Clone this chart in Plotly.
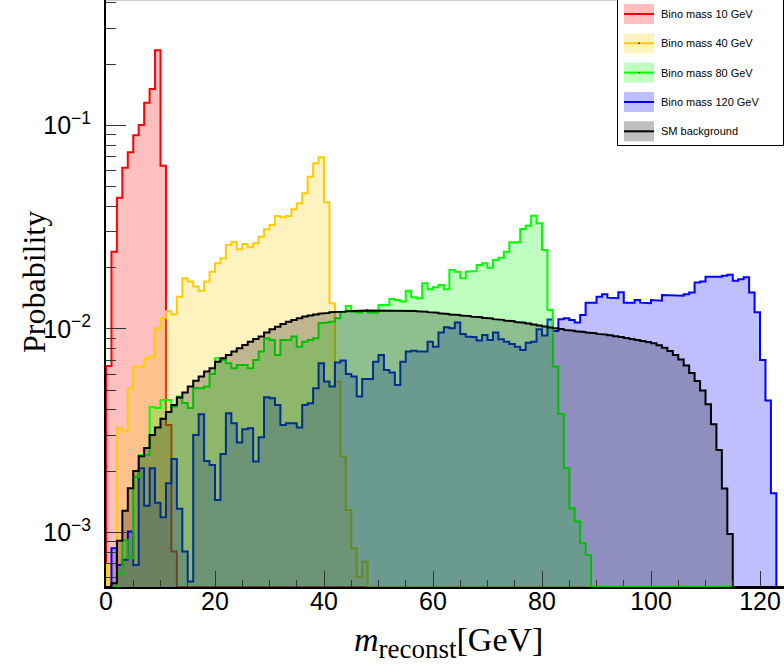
import plotly.graph_objects as go

# ---------------- data (probability per 1 GeV bin) ----------------
bin_width = 1.0            # GeV
n_bins = 125               # histogram range 0 .. 125 GeV
x_view = [0.0, 124.4]
y_view_log = [-3.2684, -0.3834]

red_first_bin = 0
red_vals = [0.00658, 0.02398, 0.04417, 0.06202, 0.07383, 0.0895, 0.1006, 0.1294,
            0.1511, 0.2342, 0.06345, 0.003376, 0.000805]

yellow_first_bin = 0
yellow_vals = [0.000692, 0.000565, 0.00325, 0.003129, 0.005111, 0.006528, 0.006528,
               0.007178, 0.00731, 0.01008, 0.01129, 0.0122, 0.0118, 0.01441, 0.01775,
               0.01708, 0.01614, 0.01542, 0.01708, 0.01912, 0.02103, 0.02225, 0.02587,
               0.02685, 0.02464, 0.02616, 0.0252, 0.02637, 0.02842, 0.0309, 0.03245,
               0.03592, 0.0354, 0.03592, 0.03874, 0.04146, 0.04643, 0.05604, 0.0652,
               0.06979, 0.04194, 0.01337, 0.005508, 0.002358, 0.00129, 0.000836,
               0.000606, 0.000719]

green_first_bin = 2
green_vals = [0.00063, 0.000918, 0.000747, 0.001874, 0.002403, 0.002403, 0.004137,
              0.00409, 0.004478, 0.004478, 0.004151, 0.004648, 0.004329, 0.00409,
              0.00511, 0.00511, 0.005206, 0.006011, 0.007178, 0.00704, 0.006781,
              0.006409, 0.006652, 0.006652, 0.006409, 0.00704, 0.007735, 0.009,
              0.00883, 0.007449, 0.00883, 0.00883, 0.009166, 0.00818, 0.00866, 0.00883,
              0.009, 0.01067, 0.01074, 0.01086, 0.01129, 0.01216, 0.01297, 0.01216,
              0.01203, 0.01226, 0.01203, 0.01203, 0.01312, 0.01312, 0.01404, 0.01388,
              0.01362, 0.01542, 0.01432, 0.01416, 0.01677, 0.01567, 0.01603, 0.01645,
              0.01567, 0.0195, 0.01912, 0.01775, 0.01912, 0.01928, 0.02063, 0.02103,
              0.02001, 0.02183, 0.0224, 0.02398, 0.02667, 0.02667, 0.031, 0.03218,
              0.03604, 0.03307, 0.02444, 0.0124, 0.006528, 0.003822, 0.002068,
              0.001315, 0.00113, 0.000885, 0.000775]

blue_first_bin = 1
blue_vals = [0.000836, 0.000692, 0.000733, 0.001009, 0.000692, 0.002068, 0.00135,
             0.002068, 0.0014, 0.001188, 0.001745, 0.002297, 0.001305, 0.000805,
             0.000573, 0.003013, 0.003809, 0.002246, 0.002146, 0.001444, 0.00243,
             0.003852, 0.003439, 0.002762, 0.003214, 0.00325, 0.002228, 0.002935,
             0.004617, 0.004566, 0.00423, 0.003376, 0.003439, 0.003439, 0.003273,
             0.00423, 0.004314, 0.00511, 0.006781, 0.005508, 0.005206, 0.006844, 0.007,
             0.006011, 0.005829, 0.004648, 0.005679, 0.005679, 0.006906, 0.007449,
             0.006287, 0.0061, 0.005306, 0.006906, 0.007735, 0.007822, 0.007735,
             0.007735, 0.00866, 0.00818, 0.0096, 0.01019, 0.01008, 0.01074, 0.009449,
             0.009166, 0.0091, 0.00876, 0.009343, 0.00883, 0.0096, 0.0089, 0.00866,
             0.008438, 0.00818, 0.007883, 0.008563, 0.00866, 0.009966, 0.00929,
             0.01113, 0.00978, 0.01116, 0.01129, 0.01107, 0.01074, 0.01172, 0.01346,
             0.01346, 0.01441, 0.01481, 0.01425, 0.01416, 0.01515, 0.01346, 0.01346,
             0.01388, 0.01346, 0.01337, 0.01388, 0.01377, 0.01469, 0.01469, 0.01469,
             0.01457, 0.01481, 0.01508, 0.01689, 0.01708, 0.01807, 0.01795, 0.01807,
             0.01827, 0.01848, 0.01727, 0.01755, 0.01795, 0.01508, 0.01208, 0.00704,
             0.004443, 0.001558]

sm_first_bin = 1
sm_vals = [0.000563, 0.000911, 0.001276, 0.001649, 0.002006, 0.002368, 0.002601,
           0.003013, 0.003281, 0.003621, 0.003909, 0.00423, 0.004606, 0.004875,
           0.005206, 0.005566, 0.005829, 0.006168, 0.006409, 0.006906, 0.007178,
           0.007449, 0.007735, 0.008036, 0.008342, 0.00866, 0.008929, 0.009187,
           0.0096, 0.009966, 0.01026, 0.01058, 0.01086, 0.01107, 0.01129, 0.0115,
           0.01163, 0.01176, 0.01189, 0.01199, 0.01208, 0.01213, 0.01216, 0.01222,
           0.01226, 0.01229, 0.01232, 0.01233, 0.01235, 0.01236, 0.01236, 0.01236,
           0.01234, 0.01233, 0.0123, 0.01226, 0.01222, 0.01216, 0.01209, 0.01202,
           0.01194, 0.01185, 0.01178, 0.0117, 0.01163, 0.01156, 0.01149, 0.01142,
           0.01134, 0.01126, 0.01117, 0.01108, 0.011, 0.01091, 0.01082, 0.01073,
           0.01063, 0.01052, 0.0104, 0.01029, 0.01017, 0.01008, 0.00998, 0.009888,
           0.009808, 0.009742, 0.009667, 0.00959, 0.009526, 0.009449, 0.009376,
           0.009311, 0.009217, 0.009135, 0.009032, 0.008931, 0.008831, 0.00873,
           0.008632, 0.008503, 0.008313, 0.008091, 0.007795, 0.007449, 0.007083,
           0.006614, 0.006079, 0.005553, 0.004985, 0.004266, 0.0034, 0.002544,
           0.001641, 0.000983]

labels = ["Bino mass 10 GeV", "Bino mass 40 GeV", "Bino mass 80 GeV",
          "Bino mass 120 GeV", "SM background"]
x_tick_vals = [0, 20, 40, 60, 80, 100, 120]
y_tick_vals = [1e-3, 1e-2, 1e-1]
y_tick_text = ["10<sup>\u22123</sup>", "10<sup>\u22122</sup>", "10<sup>\u22121</sup>"]

# ---------------- styles ----------------
line_colors = ["#ff0000", "#ffcc00", "#00ff00", "#0000ff", "#000000"]
fill_colors = ["rgba(255,0,0,0.25)", "rgba(255,204,0,0.25)", "rgba(0,255,0,0.25)",
               "rgba(0,0,255,0.25)", "rgba(0,0,0,0.25)"]
legend_dot = [True, True, True, True, False]
series = [(red_first_bin, red_vals), (yellow_first_bin, yellow_vals),
          (green_first_bin, green_vals), (blue_first_bin, blue_vals),
          (sm_first_bin, sm_vals)]
draw_order = [0, 1, 3, 2, 4]   # blue drawn beneath green, SM on top

y_floor = 10 ** y_view_log[0]

W, H = 784, 668
ML, MR, MT, MB = 106, 0, 0, 81
PW, PH = W - ML - MR, H - MT - MB


def px(x):
    return (x - ML) / PW


def py(y):
    return 1 - (y - MT) / PH


def step_xy(first, vals):
    full = [0.0] * n_bins
    for k, v in enumerate(vals):
        full[first + k] = v
    xs, ys = [0.0], [y_floor]
    for i, v in enumerate(full):
        vv = v if v > 0 else y_floor
        xs += [i * bin_width, (i + 1) * bin_width]
        ys += [vv, vv]
    xs.append(n_bins * bin_width)
    ys.append(y_floor)
    return xs, ys


fig = go.Figure()
for idx in draw_order:
    first, vals = series[idx]
    xs, ys = step_xy(first, vals)
    fig.add_trace(go.Scatter(x=xs, y=ys, mode="lines", name=labels[idx],
                             line=dict(color=line_colors[idx], width=2),
                             fill="tozeroy", fillcolor=fill_colors[idx],
                             showlegend=False, hoverinfo="skip"))

tick_font = dict(family="Liberation Sans, Arial", size=25, color="black")

minor_y = [k * 10 ** n for n in (-4, -3, -2, -1) for k in range(2, 10)]

fig.update_layout(
    width=W, height=H,
    margin=dict(l=ML, r=MR, t=MT, b=MB, pad=0),
    paper_bgcolor="white", plot_bgcolor="white",
    xaxis=dict(range=x_view, showgrid=False, zeroline=False,
               showline=True, linecolor="black", linewidth=2,
               ticks="inside", tickvals=x_tick_vals, ticklen=16, tickwidth=1,
               tickcolor="#333", tickfont=tick_font, ticklabelstandoff=-9,
               minor=dict(dtick=5, ticks="inside", ticklen=7, tickwidth=1,
                          tickcolor="#333", showgrid=False)),
    yaxis=dict(type="log", range=y_view_log, showgrid=False, zeroline=False,
               showline=True, linecolor="black", linewidth=2,
               ticks="inside", tickvals=y_tick_vals, ticktext=y_tick_text,
               ticklen=20, tickwidth=1, tickcolor="#333", tickfont=tick_font,
               ticklabelstandoff=8,
               minor=dict(tickmode="array", tickvals=minor_y, ticks="inside",
                          ticklen=10, tickwidth=1, tickcolor="#333",
                          showgrid=False)),
)

# top frame line
fig.add_shape(type="line", xref="paper", yref="paper", x0=0, x1=1, y0=1, y1=1,
              line=dict(color="#999", width=1))

# axis titles
fig.add_annotation(text="Probability", xref="paper", yref="paper",
                   x=px(34), y=py(282), textangle=-90, showarrow=False,
                   xanchor="center", yanchor="middle",
                   font=dict(family="Liberation Serif, Times New Roman, serif",
                             size=32, color="black"))
fig.add_annotation(text="<i>m</i><sub><span style='font-size:27px'>reconst</span></sub>[GeV]",
                   xref="paper", yref="paper",
                   x=px(448), y=py(642), showarrow=False,
                   xanchor="center", yanchor="middle",
                   font=dict(family="Liberation Serif, Times New Roman, serif",
                             size=34, color="black"))

# legend box (ROOT style)
fig.add_shape(type="rect", xref="paper", yref="paper",
              x0=px(617.5), x1=px(783.5), y0=py(145.5), y1=py(-1),
              line=dict(color="black", width=1), fillcolor="white", layer="above")
entry_y = [14, 43.3, 72.6, 102, 131.3]
for lab, lc, fc, ey, dot in zip(labels, line_colors, fill_colors, entry_y, legend_dot):
    fig.add_shape(type="rect", xref="paper", yref="paper",
                  x0=px(624), x1=px(654), y0=py(ey + 10), y1=py(ey - 10),
                  line=dict(width=0), fillcolor=fc, layer="above")
    fig.add_shape(type="line", xref="paper", yref="paper",
                  x0=px(624), x1=px(654), y0=py(ey), y1=py(ey),
                  line=dict(color=lc, width=2), layer="above")
    if dot:
        fig.add_shape(type="rect", xref="paper", yref="paper",
                      x0=px(638.5), x1=px(639.8), y0=py(ey + 0.7), y1=py(ey - 0.7),
                      line=dict(width=0), fillcolor="black", layer="above")
    fig.add_annotation(text=lab, xref="paper", yref="paper", x=px(659), y=py(ey),
                       xanchor="left", yanchor="middle", showarrow=False,
                       font=dict(family="Liberation Sans, Arial", size=11,
                                 color="black"))

fig.write_html("out.html", config={"displayModeBar": False},
               post_script="document.body.style.margin='0';"
                           "document.body.style.padding='0';"
                           "document.body.style.overflow='hidden';")
